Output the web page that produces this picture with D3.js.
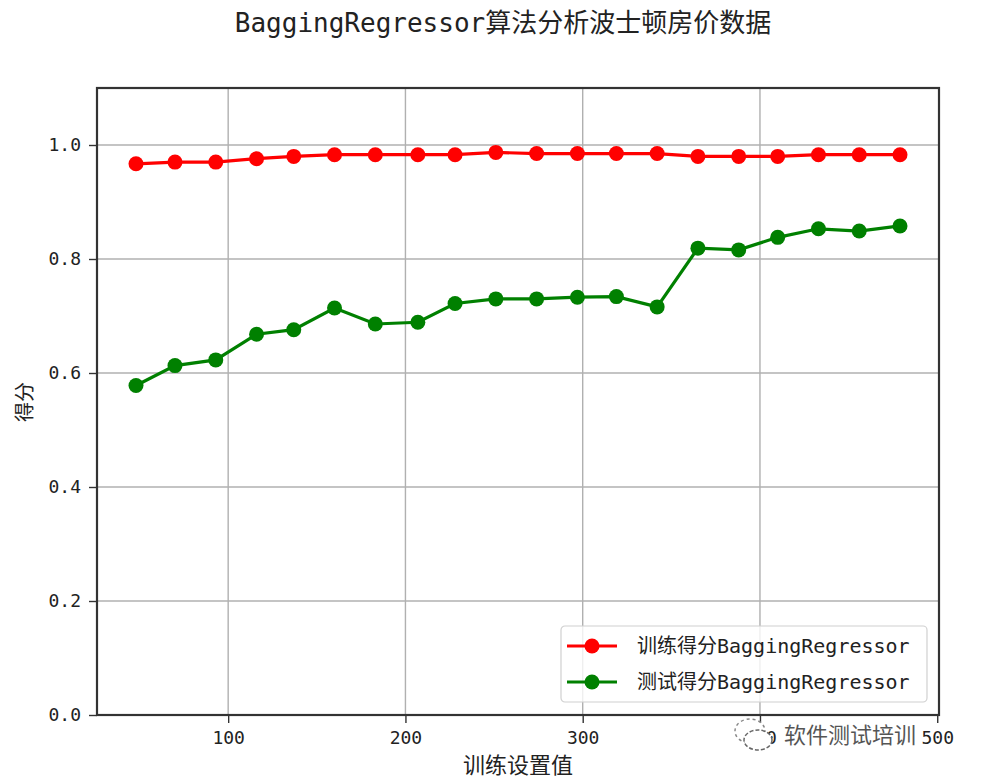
<!DOCTYPE html>
<html>
<head>
<meta charset="utf-8">
<script src="https://cdn.jsdelivr.net/npm/d3@7"></script>
<style>
  html, body { margin: 0; padding: 0; background: #fff; }
  svg { display: block; }
  text { font-family: 'DejaVu Sans Mono', 'Noto Sans CJK SC', monospace; }
</style>
</head>
<body>
<svg id="chart" width="991" height="777"></svg>
<script>
// ---- data ----
const titleText = "BaggingRegressor算法分析波士顿房价数据";
const xLabel = "训练设置值";
const yLabel = "得分";
const seriesNames = ["训练得分BaggingRegressor", "测试得分BaggingRegressor"];
const seriesColors = ["#ff0000", "#008000"];
const xValues = [48, 70, 93, 116, 137, 160, 183, 207, 228, 251, 274, 297, 319, 342, 365, 388, 410, 433, 456, 479];
const trainScores = [0.967, 0.970, 0.970, 0.976, 0.980, 0.983, 0.983, 0.983, 0.983, 0.987, 0.985, 0.985, 0.985, 0.985, 0.980, 0.980, 0.980, 0.983, 0.983, 0.983];
const testScores = [0.578, 0.613, 0.623, 0.668, 0.676, 0.714, 0.686, 0.689, 0.722, 0.730, 0.730, 0.733, 0.734, 0.716, 0.819, 0.816, 0.838, 0.853, 0.849, 0.858];
const xTicks = [100, 200, 300, 400, 500];
const yTicks = [0.0, 0.2, 0.4, 0.6, 0.8, 1.0];
const xDomain = [26, 501];
const yDomain = [0, 1.1];
const watermark = "软件测试培训";

// ---- layout ----
const svg = d3.select("#chart");
const plot = { left: 97, right: 939, top: 88, bottom: 715 };
const x = d3.scaleLinear().domain(xDomain).range([plot.left, plot.right]);
const y = d3.scaleLinear().domain(yDomain).range([plot.bottom, plot.top]);

// title
svg.append("text")
  .attr("x", 503).attr("y", 32)
  .attr("text-anchor", "middle")
  .attr("font-size", 26)
  .attr("fill", "#222")
  .text(titleText);

// grid
const grid = svg.append("g");
grid.selectAll("line.gx").data(xTicks.filter(t => x(t) < plot.right - 2)).enter()
  .append("line")
  .attr("x1", d => x(d)).attr("x2", d => x(d))
  .attr("y1", plot.top).attr("y2", plot.bottom)
  .attr("stroke", "#b0b0b0").attr("stroke-width", 1.4);
grid.selectAll("line.gy").data(yTicks).enter()
  .append("line")
  .attr("x1", plot.left).attr("x2", plot.right)
  .attr("y1", d => y(d)).attr("y2", d => y(d))
  .attr("stroke", "#b0b0b0").attr("stroke-width", 1.4);

// axes
const xAxis = d3.axisBottom(x).tickValues(xTicks).tickFormat(d3.format("d")).tickSizeInner(8).tickSizeOuter(0).tickPadding(8);
const yAxis = d3.axisLeft(y).tickValues(yTicks).tickFormat(d3.format(".1f")).tickSizeInner(8).tickSizeOuter(0).tickPadding(8);

const gx = svg.append("g").attr("transform", `translate(0,${plot.bottom})`).call(xAxis);
const gy = svg.append("g").attr("transform", `translate(${plot.left},0)`).call(yAxis);
[gx, gy].forEach(g => {
  g.select(".domain").remove();
  g.selectAll(".tick line").attr("stroke", "#333").attr("stroke-width", 1.4);
  g.selectAll(".tick text").attr("font-size", 18).attr("fill", "#222")
    .style("font-family", "'DejaVu Sans Mono', monospace");
});

// series
const series = [trainScores, testScores];
const lineGen = d3.line().x((d, i) => x(xValues[i])).y(d => y(d));
series.forEach((vals, si) => {
  const g = svg.append("g");
  g.append("path").datum(vals)
    .attr("d", lineGen)
    .attr("fill", "none")
    .attr("stroke", seriesColors[si])
    .attr("stroke-width", 3.2);
  g.selectAll("circle").data(vals).enter().append("circle")
    .attr("cx", (d, i) => x(xValues[i]))
    .attr("cy", d => y(d))
    .attr("r", 7.5)
    .attr("fill", seriesColors[si]);
});

// spines
svg.append("rect")
  .attr("x", plot.left).attr("y", plot.top)
  .attr("width", plot.right - plot.left).attr("height", plot.bottom - plot.top)
  .attr("fill", "none").attr("stroke", "#333").attr("stroke-width", 2.2);

// legend
const leg = svg.append("g").attr("transform", "translate(561,626)");
leg.append("rect")
  .attr("width", 366).attr("height", 76)
  .attr("rx", 4)
  .attr("fill", "#fff").attr("fill-opacity", 0.8)
  .attr("stroke", "#d0d0d0").attr("stroke-width", 1.2);
seriesNames.forEach((name, i) => {
  const cy = 20 + i * 36;
  leg.append("line").attr("x1", 6).attr("x2", 56).attr("y1", cy).attr("y2", cy)
    .attr("stroke", seriesColors[i]).attr("stroke-width", 3.2);
  leg.append("circle").attr("cx", 31).attr("cy", cy).attr("r", 7.5).attr("fill", seriesColors[i]);
  leg.append("text").attr("x", 76).attr("y", cy + 7)
    .attr("font-size", 20).attr("fill", "#222").text(name);
});

// axis labels
svg.append("text")
  .attr("x", 518).attr("y", 773)
  .attr("text-anchor", "middle")
  .attr("font-size", 22).attr("fill", "#222")
  .text(xLabel);
svg.append("text")
  .attr("transform", "translate(32,402) rotate(-90)")
  .attr("text-anchor", "middle")
  .attr("font-size", 20).attr("fill", "#222")
  .text(yLabel);

// watermark
const wm = svg.append("g");
wm.append("ellipse").attr("cx", 750).attr("cy", 731).attr("rx", 15).attr("ry", 12)
  .attr("fill", "#fff").attr("stroke", "#888").attr("stroke-width", 1.5).attr("stroke-dasharray", "3,3");
wm.append("ellipse").attr("cx", 758).attr("cy", 740).attr("rx", 14).attr("ry", 10)
  .attr("fill", "#fff").attr("stroke", "#666").attr("stroke-width", 1.5).attr("stroke-dasharray", "4,2");
wm.append("text")
  .attr("x", 784).attr("y", 743)
  .attr("font-size", 22)
  .attr("fill", "#555")
  .attr("stroke", "#fff").attr("stroke-width", 4)
  .attr("paint-order", "stroke")
  .style("font-family", "'Noto Sans CJK SC', sans-serif")
  .text(watermark);
</script>
</body>
</html>
